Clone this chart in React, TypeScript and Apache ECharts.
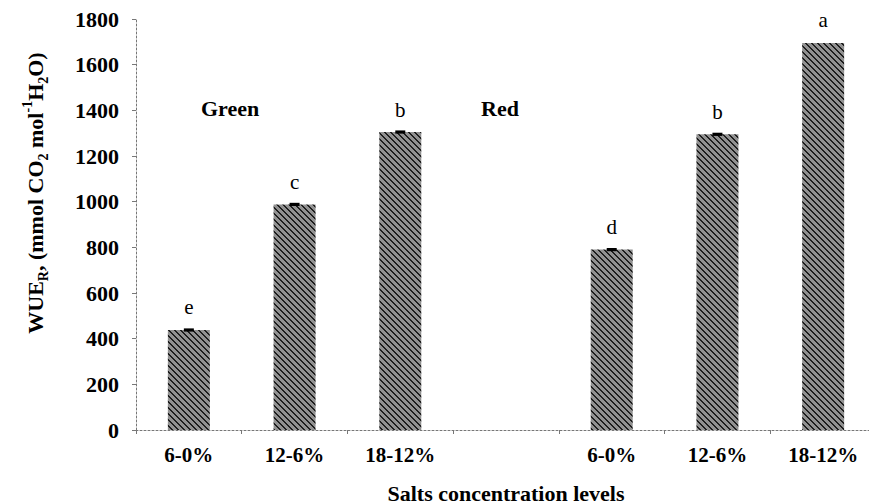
import React, { useEffect, useRef } from "react";
import * as echarts from "echarts";

const categories = ["6-0%", "12-6%", "18-12%", "", "6-0%", "12-6%", "18-12%"];
const values: (number | string)[] = [438, 988, 1305, "-", 790, 1295, 1695];
const errors = [7, 7, 7, 0, 7, 7, 0];
const letters = ["e", "c", "b", "", "d", "b", "a"];
const yTicks = { min: 0, max: 1800, interval: 200 };
const groupLabels = ["Green", "Red"];

const SERIF = "'Liberation Serif', 'Times New Roman', serif";

function makeHatch(): HTMLCanvasElement {
  const size = 6;
  const c = document.createElement("canvas");
  c.width = size;
  c.height = size;
  const ctx = c.getContext("2d")!;
  const img = ctx.createImageData(size, size);
  for (let y = 0; y < size; y++) {
    for (let x = 0; x < size; x++) {
      const k = (((x - y) % size) + size) % size;
      const dark = k === 0 || k === 1;
      const v = dark ? 30 : 145;
      const i = (y * size + x) * 4;
      img.data[i] = v;
      img.data[i + 1] = v;
      img.data[i + 2] = v;
      img.data[i + 3] = 255;
    }
  }
  ctx.putImageData(img, 0, 0);
  return c;
}

export default function App() {
  const ref = useRef<HTMLDivElement>(null);
  useEffect(() => {
    if (!ref.current) return;
    const chart = echarts.init(ref.current, undefined, { renderer: "svg" });
    const axisLine = { show: true, lineStyle: { color: "#777", width: 1, type: [2, 2] as any } };
    const hatch = makeHatch();
    chart.setOption({
      animation: false,
      backgroundColor: "#fff",
      grid: { left: 136, right: -7, top: 19, bottom: 74, outerBoundsMode: "none" } as any,
      xAxis: {
        type: "category",
        data: categories,
        axisLine,
        axisTick: { show: true, length: 4, lineStyle: { color: "#777" } },
        axisLabel: {
          margin: 14,
          fontFamily: SERIF,
          fontWeight: "bold",
          fontSize: 21,
          color: "#000",
        },
        name: "Salts concentration levels",
        nameLocation: "middle",
        nameGap: 52,
        nameTextStyle: { fontFamily: SERIF, fontWeight: "bold", fontSize: 22, color: "#000" },
      },
      yAxis: {
        type: "value",
        min: yTicks.min,
        max: yTicks.max,
        interval: yTicks.interval,
        splitLine: { show: false },
        axisLine,
        axisTick: { show: true, length: 4, lineStyle: { color: "#777" } },
        axisLabel: {
          margin: 17,
          formatter: (v: number) => String(v),
          fontFamily: SERIF,
          fontWeight: "bold",
          fontSize: 22,
          color: "#000",
        },
      },
      series: [
        {
          type: "bar",
          data: values,
          barWidth: 42,
          itemStyle: {
            color: { image: hatch, repeat: "repeat" } as any,
          },
          label: {
            show: true,
            position: "top",
            distance: 12,
            formatter: (p: any) => letters[p.dataIndex] || "",
            fontFamily: SERIF,
            fontSize: 21,
            color: "#000",
          },
        },
        {
          type: "custom",
          z: 5,
          data: values
            .map((v, i) => [i, v, errors[i]])
            .filter((d) => typeof d[1] === "number" && (d[2] as number) > 0),
          renderItem: (params: any, api: any) => {
            const i = api.value(0);
            const v = api.value(1);
            const e = api.value(2);
            const top = api.coord([i, v + e]);
            const bot = api.coord([i, v - e]);
            const h = Math.max(3, bot[1] - top[1]);
            return {
              type: "rect",
              shape: { x: top[0] - 5, y: (top[1] + bot[1]) / 2 - h / 2, width: 10, height: h },
              style: { fill: "#000" },
            };
          },
        },
      ],
      graphic: [
        {
          type: "text",
          x: 201,
          y: 108,
          style: {
            text: groupLabels[0],
            fontFamily: SERIF,
            fontWeight: "bold",
            fontSize: 22,
            fill: "#000",
            verticalAlign: "middle",
          },
        },
        {
          type: "text",
          x: 481,
          y: 108,
          style: {
            text: groupLabels[1],
            fontFamily: SERIF,
            fontWeight: "bold",
            fontSize: 22,
            fill: "#000",
            verticalAlign: "middle",
          },
        },
        {
          type: "text",
          x: 35,
          y: 193,
          rotation: Math.PI / 2,
          style: {
            text: "{m|WUE}{s|R}{m|, (mmol CO}{s|2}{m| mol}{u|-1}{m|H}{s|2}{m|O)}",
            align: "center",
            verticalAlign: "middle",
            fill: "#000",
            rich: {
              m: { fontFamily: SERIF, fontWeight: "bold", fontSize: 22, lineHeight: 30, fill: "#000" },
              s: { fontFamily: SERIF, fontWeight: "bold", fontSize: 14, lineHeight: 14, verticalAlign: "bottom", fill: "#000" },
              u: { fontFamily: SERIF, fontWeight: "bold", fontSize: 14, lineHeight: 14, verticalAlign: "top", fill: "#000" },
            },
          },
        },
      ],
    });
    return () => chart.dispose();
  }, []);
  return (
    <div
      ref={ref}
      style={{ position: "fixed", left: 0, top: 0, width: 869, height: 504 }}
    />
  );
}
